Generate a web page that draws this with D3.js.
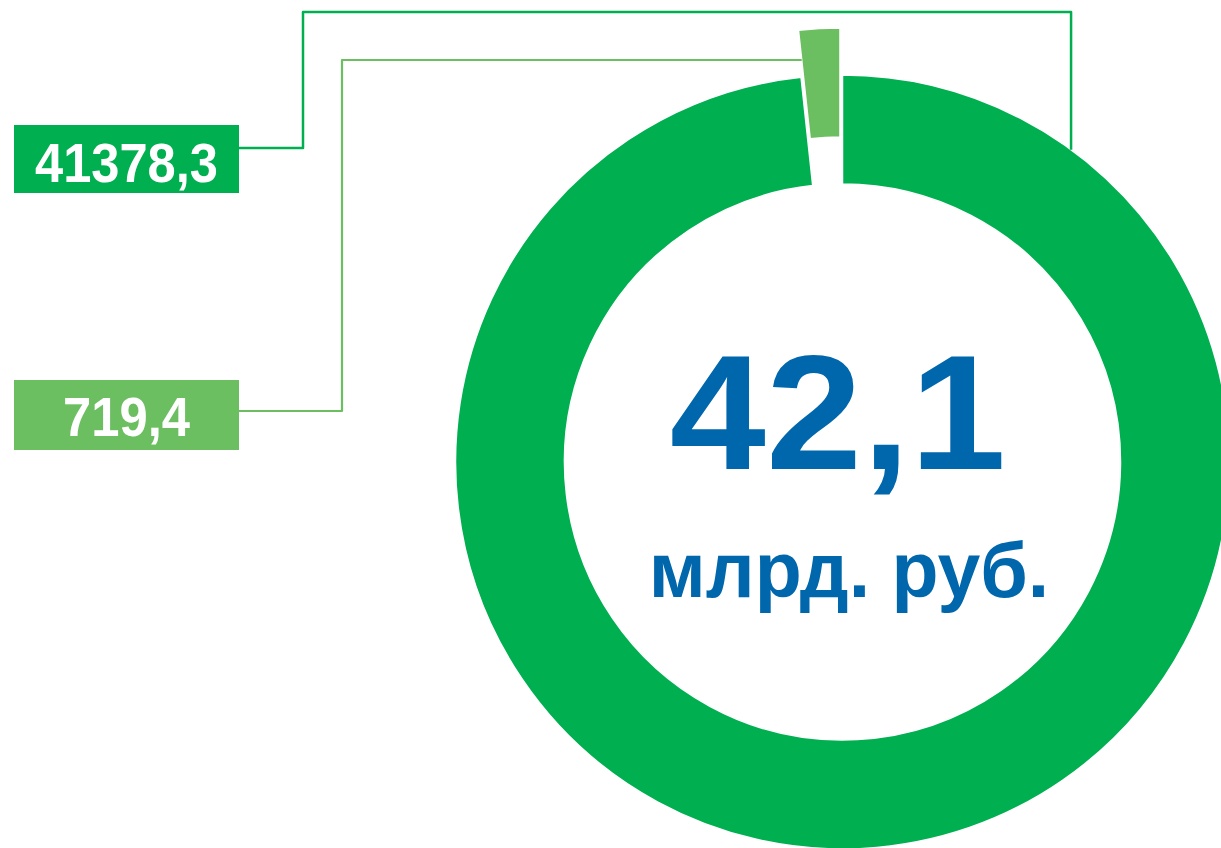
<!DOCTYPE html>
<html>
<head>
<meta charset="utf-8">
<script src="https://cdn.jsdelivr.net/npm/d3@7"></script>
<style>
  html, body { margin: 0; padding: 0; background: #ffffff; }
  svg { display: block; }
</style>
</head>
<body>
<svg id="chart" width="1221" height="848"></svg>
<script>
// ---- data ----
const categories = ["Основная часть", "Прочее"];
const values = [41378.3, 719.4];
const valueLabels = ["41378,3", "719,4"];
const totalLabel = "42,1";
const unitLabel = "млрд. руб.";
const colors = ["#00AF50", "#6BBF60"];

// ---- layout ----
const W = 1221, H = 848;
const cx = 842.5, cy = 462;
const R = 387, r = 278;
const explode = 47;
const blue = "#0067AC";

const svg = d3.select("#chart");

const pie = d3.pie().sort(null).value(d => d.v).startAngle(0).endAngle(2 * Math.PI);
const data = categories.map((c, i) => ({ c, v: values[i], i }));
const arcs = pie(data);
const arc = d3.arc().innerRadius(r).outerRadius(R);

const g = svg.append("g").attr("transform", `translate(${cx},${cy})`);

function offset(d) {
  if (d.index === 0) return [0, 0];
  const m = (d.startAngle + d.endAngle) / 2;
  return [explode * Math.sin(m), -explode * Math.cos(m)];
}

g.selectAll("path.slice")
  .data(arcs)
  .join("path")
  .attr("class", "slice")
  .attr("d", arc)
  .attr("fill", (d, i) => colors[i])
  .attr("stroke", "#ffffff")
  .attr("stroke-width", 1.5)
  .attr("transform", d => `translate(${offset(d)[0]},${offset(d)[1]})`);

// ---- leader lines & labels ----
const boxX = 14, boxW = 225;
const boxes = [
  { y: 125, h: 68, lineY: 148, vx: 303, topY: 12 },
  { y: 380, h: 70, lineY: 411, vx: 342, topY: 60 }
];

const a0 = 36.2 * Math.PI / 180;
const anchor0 = [cx + R * Math.sin(a0), cy - R * Math.cos(a0)];
const s = arcs[1];
const off1 = offset(s);
const t1 = (cy + off1[1] - boxes[1].topY) / Math.cos(s.startAngle);
const anchor1 = [cx + off1[0] + t1 * Math.sin(s.startAngle), boxes[1].topY];

const paths = [
  `M${boxX + boxW},${boxes[0].lineY}H${boxes[0].vx}V${boxes[0].topY}H${anchor0[0]}V${anchor0[1]}`,
  `M${boxX + boxW},${boxes[1].lineY}H${boxes[1].vx}V${boxes[1].topY}H${anchor1[0]}`
];

svg.selectAll("path.leader")
  .data(paths)
  .join("path")
  .attr("class", "leader")
  .attr("d", d => d)
  .attr("fill", "none")
  .attr("stroke", (d, i) => colors[i])
  .attr("stroke-width", (d, i) => i === 0 ? 2.5 : 2.2)
  .attr("stroke-linejoin", "round");

const lbl = svg.selectAll("g.lbl")
  .data(arcs)
  .join("g")
  .attr("class", "lbl");

lbl.append("rect")
  .attr("x", boxX)
  .attr("y", (d, i) => boxes[i].y)
  .attr("width", boxW)
  .attr("height", (d, i) => boxes[i].h)
  .attr("fill", (d, i) => colors[i]);

const textW = [183, 127];
const baseY = [182, 436];
lbl.append("text")
  .attr("x", boxX + boxW / 2)
  .attr("y", (d, i) => baseY[i])
  .attr("text-anchor", "middle")
  .attr("fill", "#ffffff")
  .attr("font-family", "Liberation Sans, Arial, sans-serif")
  .attr("font-weight", "bold")
  .attr("font-size", 55)
  .attr("textLength", (d, i) => textW[i])
  .attr("lengthAdjust", "spacingAndGlyphs")
  .text((d, i) => valueLabels[i]);

// ---- center texts ----
svg.append("g")
  .attr("transform", "translate(838,469) scale(1.06,1)")
  .append("text")
  .attr("x", 0)
  .attr("y", 0)
  .attr("text-anchor", "middle")
  .attr("fill", blue)
  .attr("font-family", "Liberation Sans, Arial, sans-serif")
  .attr("font-weight", "bold")
  .attr("font-size", 163)
  .text(totalLabel);

svg.append("text")
  .attr("x", 849)
  .attr("y", 597)
  .attr("text-anchor", "middle")
  .attr("fill", blue)
  .attr("font-family", "Liberation Sans, Arial, sans-serif")
  .attr("font-weight", "bold")
  .attr("font-size", 77)
  .text(unitLabel);
</script>
</body>
</html>
